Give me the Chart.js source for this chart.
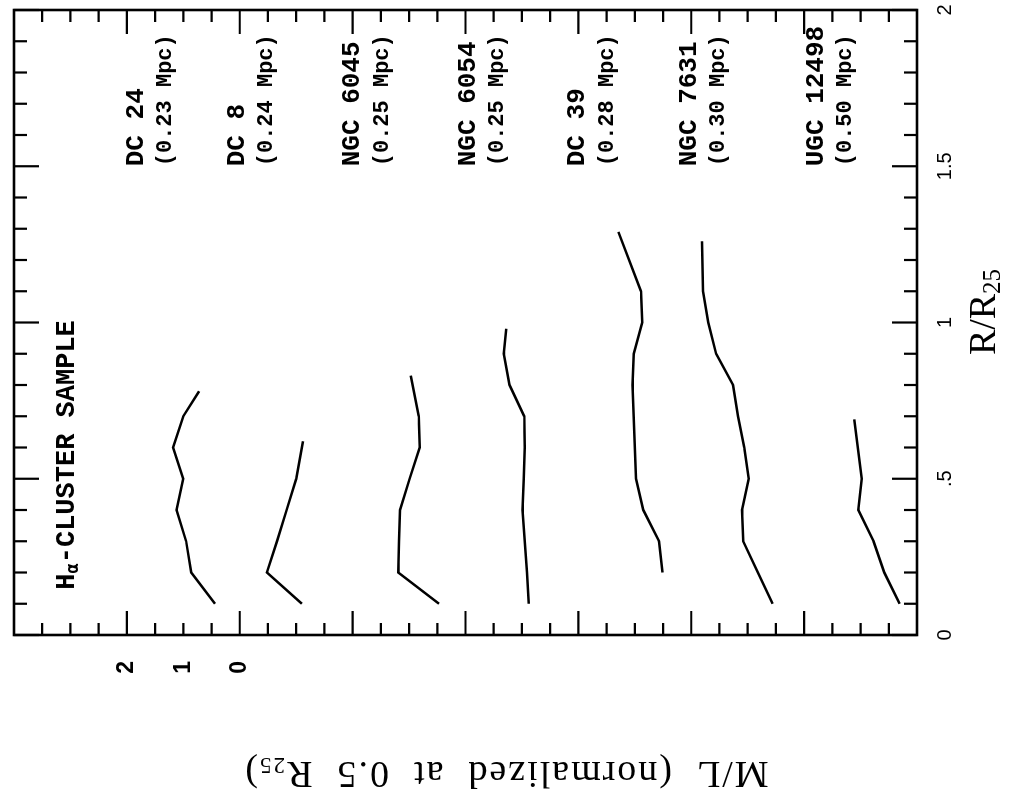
<!DOCTYPE html>
<html><head><meta charset="utf-8">
<script src="https://cdn.jsdelivr.net/npm/chart.js@4.4.0/dist/chart.umd.min.js"></script>
<style>
html,body{margin:0;padding:0;background:#fff;overflow:hidden;width:1010px;height:791px;}
#wrap{position:absolute;left:0;top:0;width:791px;height:1010px;transform-origin:0 0;transform:translateY(791px) rotate(-90deg);background:#fff;}
canvas{display:block;}
</style></head><body>
<div id="wrap"><canvas id="c" width="791" height="1010"></canvas></div>
<script>
// ---- data ----
const galaxies  = ['DC 24','DC 8','NGC 6045','NGC 6054','DC 39','NGC 7631','UGC 12498'];
const distances = ['(0.23 Mpc)','(0.24 Mpc)','(0.25 Mpc)','(0.25 Mpc)','(0.28 Mpc)','(0.30 Mpc)','(0.50 Mpc)'];
const offsets   = [0,-2,-4,-6,-8,-10,-12];

const r_DC24     = [0.1,0.2,0.3,0.4,0.5,0.6,0.7,0.78];
const ml_DC24    = [0.44,0.86,0.95,1.12,1.00,1.18,1.00,0.72];
const r_DC8      = [0.1,0.2,0.3,0.4,0.5,0.62];
const ml_DC8     = [0.90,1.52,1.34,1.17,1.00,0.88];
const r_NGC6045  = [0.1,0.2,0.3,0.4,0.5,0.6,0.7,0.83];
const ml_NGC6045 = [0.47,1.19,1.18,1.16,0.99,0.81,0.83,0.97];
const r_NGC6054  = [0.1,0.2,0.3,0.4,0.5,0.6,0.7,0.8,0.9,0.98];
const ml_NGC6054 = [0.88,0.91,0.95,0.99,0.97,0.95,0.96,1.22,1.32,1.28];
const r_DC39     = [0.2,0.3,0.4,0.5,0.8,0.9,1.0,1.1,1.29];
const ml_DC39    = [0.51,0.57,0.85,0.98,1.04,1.02,0.87,0.89,1.29];
const r_NGC7631  = [0.1,0.2,0.3,0.4,0.5,0.6,0.7,0.8,0.9,1.0,1.1,1.26];
const ml_NGC7631 = [0.56,0.82,1.08,1.10,0.98,1.06,1.17,1.26,1.56,1.70,1.79,1.81];
const r_UGC12498 = [0.1,0.2,0.3,0.4,0.5,0.69];
const ml_UGC12498= [0.31,0.58,0.77,1.04,0.98,1.11];

const radii  = [r_DC24,r_DC8,r_NGC6045,r_NGC6054,r_DC39,r_NGC7631,r_UGC12498];
const values = [ml_DC24,ml_DC8,ml_NGC6045,ml_NGC6054,ml_DC39,ml_NGC7631,ml_UGC12498];

const rTickValues  = [0,0.5,1,1.5,2];
const rTickLabels  = ['0','.5','1','1.5','2'];
const mlTickValues = [0,1,2];
const mlTickLabels = ['0','1','2'];

// ---- layout (annotation placement, in axis units relative to each offset) ----
const labelLift = [1.31,1.52,1.48,1.43,1.49,1.51,1.26];
const labelGap  = 0.52;
const labelR    = 1.5;

// ---- chart ----
const datasets = galaxies.map((g,i)=>({
  label:g,
  data: radii[i].map((r,j)=>({x:r, y: values[i][j] + offsets[i]})),
  showLine:true, borderColor:'#000', backgroundColor:'#000',
  borderWidth:2.5, pointRadius:0, tension:0, fill:false
}));

function labelFrom(vals, labs){
  return v => { const i = vals.findIndex(t=>Math.abs(t-v)<1e-6); return i>=0 ? labs[i] : ''; };
}
function noPad(s){ s.paddingTop=0; s.paddingBottom=0; s.paddingLeft=0; s.paddingRight=0; }

function drawParts(ctx, parts, x, y, align, spacing){
  ctx.letterSpacing = spacing || '0px';
  let w = 0;
  parts.forEach(p=>{ ctx.font=p.f; p.w = ctx.measureText(p.t).width; w += p.w; });
  let cx = align==='center' ? x - w/2 : x;
  ctx.textAlign='left';
  parts.forEach(p=>{ ctx.font=p.f; ctx.fillText(p.t, cx, y + (p.dy||0)); cx += p.w; });
  ctx.letterSpacing = '0px';
}

const deco = {
  id:'deco',
  afterDatasetsDraw(chart){
    const {ctx, chartArea:a, scales:{x,y}} = chart;
    ctx.save();
    ctx.strokeStyle='#000'; ctx.fillStyle='#000';
    ctx.lineWidth=2.6;
    ctx.strokeRect(a.left,a.top,a.right-a.left,a.bottom-a.top);
    ctx.lineWidth=2.2;
    ctx.beginPath();
    for(let k=0;k<=20;k++){
      const px=x.getPixelForValue(k/10); const L=(k%5===0)?25:13;
      ctx.moveTo(px,a.bottom); ctx.lineTo(px,a.bottom-L);
      ctx.moveTo(px,a.top); ctx.lineTo(px,a.top+L);
    }
    for(let k=-24;k<=8;k++){
      const py=y.getPixelForValue(k/2); const L=(k%4===0)?24:12;
      ctx.moveTo(a.left,py); ctx.lineTo(a.left+L,py);
      ctx.moveTo(a.right,py); ctx.lineTo(a.right-L,py);
    }
    ctx.stroke();

    // galaxy labels
    ctx.textBaseline='middle';
    galaxies.forEach((g,i)=>{
      const lx = x.getPixelForValue(labelR);
      ctx.textAlign='left';
      ctx.font="bold 26px 'Liberation Mono'";
      ctx.fillText(g, lx, y.getPixelForValue(offsets[i]+labelLift[i]+labelGap));
      ctx.font="bold 22px 'Liberation Mono'";
      ctx.fillText(distances[i], lx, y.getPixelForValue(offsets[i]+labelLift[i]));
    });

    // sample title
    drawParts(ctx,[
      {t:'H', f:"bold 27px 'Liberation Mono'"},
      {t:'\u03b1', f:"bold 17px 'DejaVu Sans Mono'", dy:6},
      {t:'-CLUSTER SAMPLE', f:"bold 27px 'Liberation Mono'"}
    ], x.getPixelForValue(0.145), y.getPixelForValue(3.05), 'left');

    // x axis title R/R25
    drawParts(ctx,[
      {t:'R/R', f:"38px 'Liberation Serif'"},
      {t:'25', f:"25px 'Liberation Serif'", dy:8}
    ], 479, 985, 'center');

    // y axis title
    ctx.translate(19, 506);
    ctx.rotate(-Math.PI/2);
    drawParts(ctx,[
      {t:'M/L  (normalized  at  0.5  R', f:"38px 'Liberation Serif'"},
      {t:'25', f:"23px 'Liberation Serif'", dy:8},
      {t:')', f:"38px 'Liberation Serif'"}
    ], 0, 0, 'center', '2px');
    ctx.restore();
  }
};

new Chart(document.getElementById('c'), {
  type:'scatter',
  data:{datasets},
  options:{
    responsive:false, animation:false, devicePixelRatio:1,
    layout:{padding:{top:14,right:10,left:0,bottom:0}},
    plugins:{legend:{display:false}, tooltip:{enabled:false}, title:{display:false}},
    scales:{
      x:{type:'linear', position:'bottom', min:0, max:2,
         afterFit(s){ s.height=93; noPad(s); },
         grid:{display:false, drawTicks:false}, border:{display:false},
         ticks:{stepSize:0.5, autoSkip:false, maxRotation:0, minRotation:0, padding:16, color:'#000',
                font:{family:"'Liberation Sans'", size:20}, callback:labelFrom(rTickValues,rTickLabels)}},
      y:{type:'linear', position:'left', min:-12, max:4,
         afterFit(s){ s.width=156; noPad(s); },
         grid:{display:false, drawTicks:false}, border:{display:false},
         ticks:{stepSize:1, autoSkip:false, padding:26, color:'#000',
                font:{family:"'Liberation Sans'", size:23, weight:'bold'}, callback:labelFrom(mlTickValues,mlTickLabels)}}
    }
  },
  plugins:[deco]
});
</script>
</body></html>
